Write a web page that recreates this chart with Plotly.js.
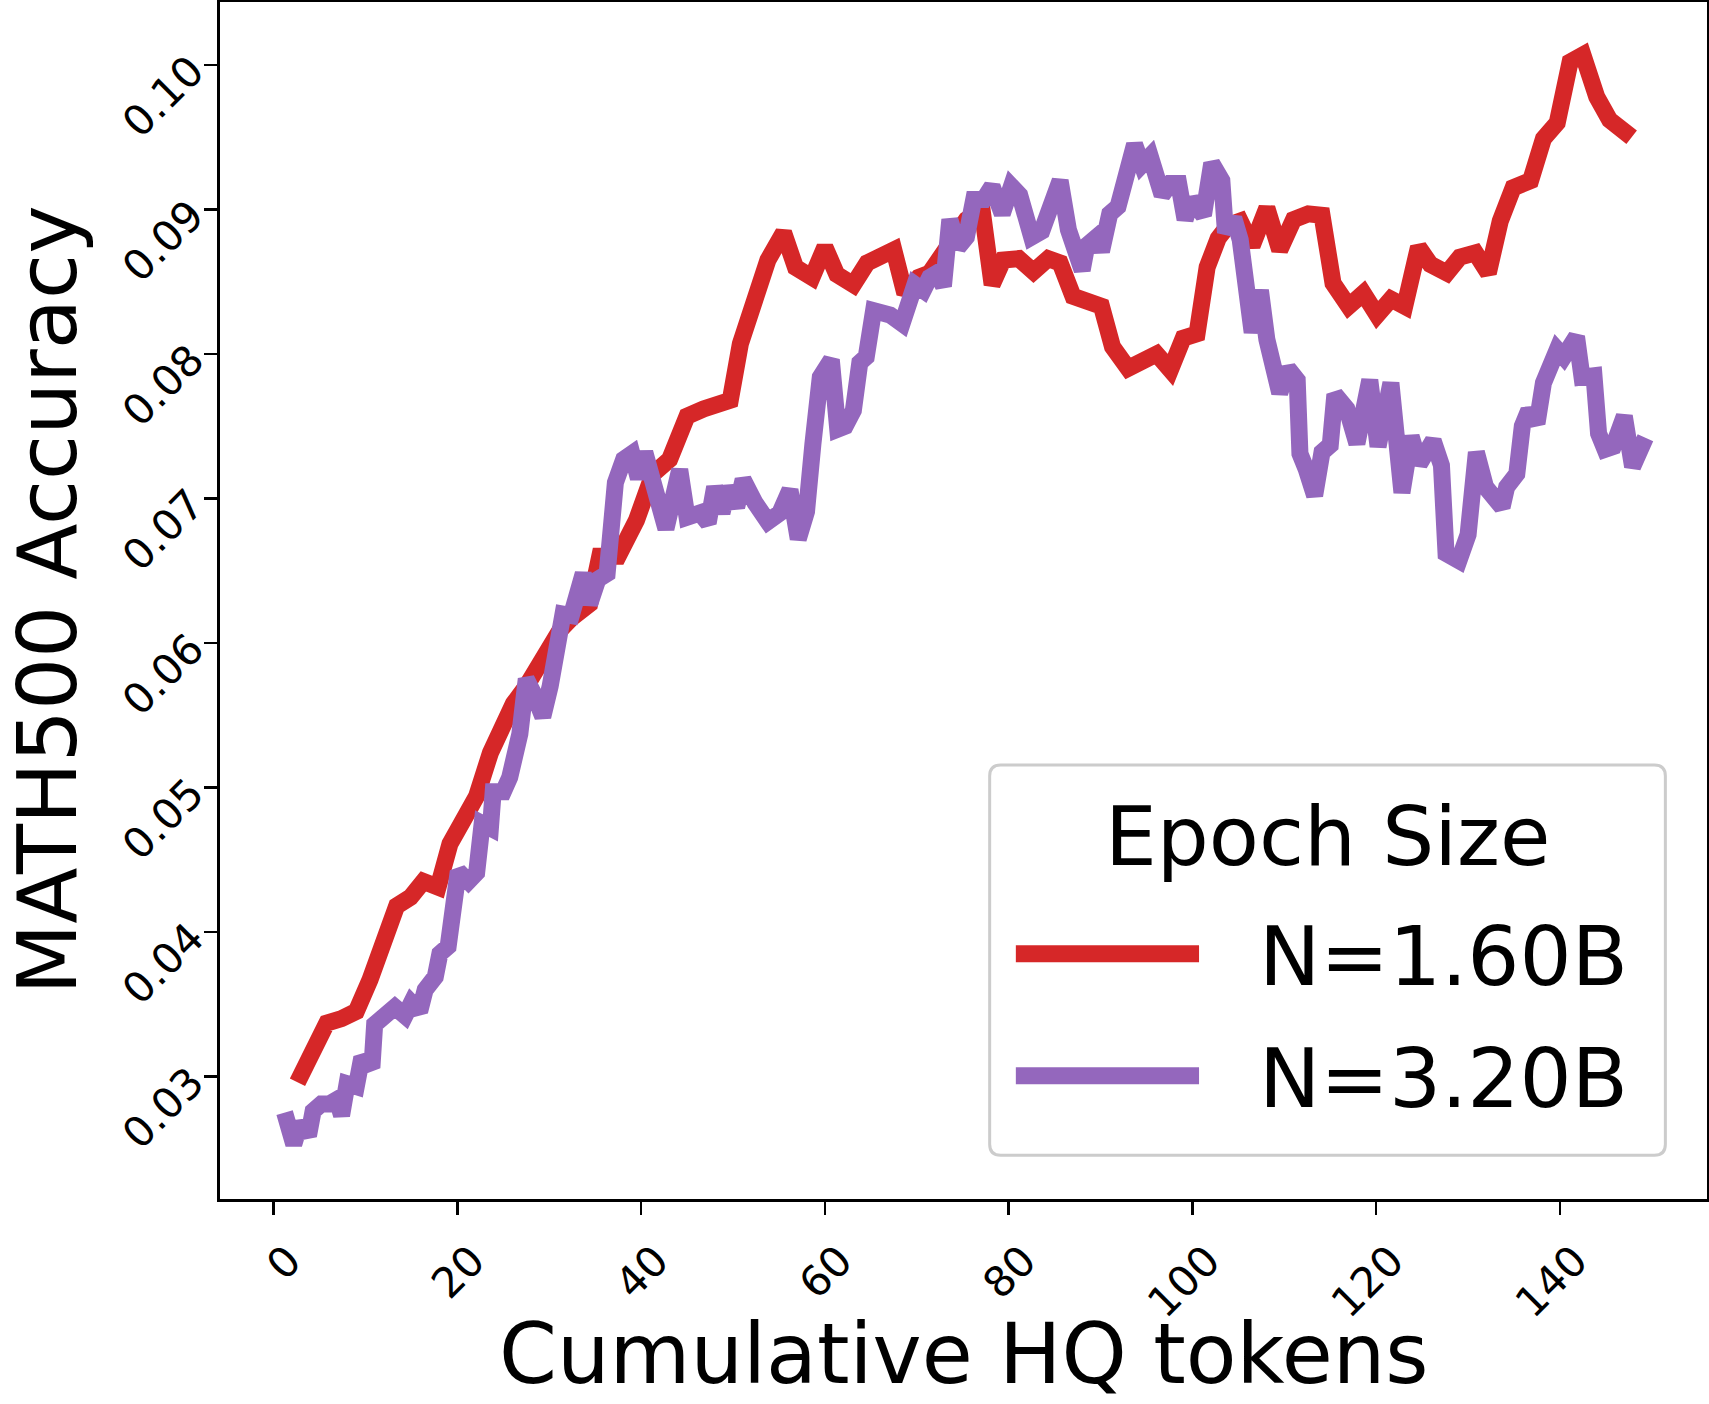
<!DOCTYPE html>
<html>
<head>
<meta charset="utf-8">
<script src="https://cdn.plot.ly/plotly-3.0.1.min.js"></script>
<style>html,body{margin:0;padding:0;background:#fff;}#chart{width:1709px;height:1404px;}</style>
</head>
<body>
<div id="chart"></div>
<script>
const xTitle = "Cumulative HQ tokens";
const yTitle = "MATH500 Accuracy";
const legendTitle = "Epoch Size";
const seriesNames = ["N=1.60B", "N=3.20B"];
const seriesColors = ["#d62728", "#9467bd"];

const redX = [2.6,4.0,5.8,7.4,9.0,10.5,11.9,13.4,14.9,16.3,17.9,19.2,20.7,22.1,23.6,24.6,26.1,27.5,29.0,30.2,31.2,32.4,34.4,35.5,37.5,39.5,41.3,43.1,45.0,46.8,49.7,50.8,52.0,53.8,55.5,56.8,58.6,60.0,61.3,63.1,64.6,65.8,67.5,68.7,70.2,71.4,72.5,74.0,75.4,77.1,78.2,79.4,81.1,82.7,84.3,85.6,87.0,90.1,91.3,93.0,94.5,96.1,97.6,99.0,100.5,101.6,102.8,103.9,105.2,106.5,108.1,109.5,111.0,112.6,114.1,115.3,117.0,118.6,120.1,121.6,123.1,124.6,125.9,127.7,129.1,130.8,132.2,133.5,134.9,136.8,138.2,139.7,141.1,142.5,144.0,145.4,147.8];
const redY = [0.0296,0.0317,0.0337,0.0340,0.0345,0.0367,0.0394,0.0418,0.0424,0.0435,0.0431,0.0461,0.0478,0.0494,0.0524,0.0540,0.0558,0.0570,0.0588,0.0603,0.0609,0.0617,0.0627,0.0660,0.0660,0.0685,0.0717,0.0727,0.0757,0.0762,0.0768,0.0807,0.0830,0.0865,0.0884,0.0860,0.0853,0.0874,0.0855,0.0848,0.0863,0.0866,0.0872,0.0842,0.0853,0.0856,0.0865,0.0879,0.0893,0.0900,0.0848,0.0865,0.0866,0.0857,0.0866,0.0863,0.0840,0.0833,0.0805,0.0790,0.0794,0.0800,0.0789,0.0811,0.0814,0.0860,0.0880,0.0889,0.0892,0.0875,0.0901,0.0872,0.0893,0.0897,0.0896,0.0849,0.0833,0.0842,0.0827,0.0838,0.0833,0.0874,0.0862,0.0856,0.0867,0.0870,0.0856,0.0892,0.0915,0.0920,0.0949,0.0960,0.1002,0.1007,0.0978,0.0962,0.0950];

const purpleX = [1.2,2.2,2.9,3.8,4.3,5.2,6.1,6.9,7.4,8.0,9.0,9.6,10.7,11.0,13.2,14.3,15.0,15.9,16.5,17.6,18.1,19.0,20.1,21.2,22.1,22.7,23.6,23.9,25.0,25.7,26.8,27.5,28.3,29.3,30.1,30.8,31.5,32.4,33.7,34.4,35.3,36.3,37.2,38.1,39.0,39.7,40.4,42.7,44.2,45.0,46.4,47.3,48.0,48.8,49.5,50.4,51.1,52.4,53.8,55.1,56.2,57.1,58.0,58.7,59.5,60.7,61.4,62.2,63.1,63.8,64.5,65.3,67.1,68.4,69.8,70.7,71.4,72.2,72.9,73.6,74.5,75.4,76.2,77.3,78.2,79.3,80.3,81.2,82.5,83.6,84.5,85.6,86.5,88.0,88.5,89.6,90.1,91.0,91.9,93.0,93.7,94.5,95.4,96.7,97.6,98.5,99.2,99.9,101.2,102.1,103.2,103.6,104.5,105.2,106.5,107.4,108.1,109.5,110.4,111.4,111.7,112.4,113.3,114.1,115.0,115.5,116.8,117.9,119.3,120.2,121.6,122.8,123.8,124.7,126.2,127.1,127.6,129.0,130.0,130.9,131.9,133.7,134.2,135.3,135.9,136.6,137.5,138.2,139.0,139.7,140.4,141.8,142.4,143.7,144.2,144.9,145.8,147.0,147.9,149.3];
const purpleY = [0.0275,0.0253,0.0268,0.0259,0.0276,0.0281,0.0281,0.0284,0.0273,0.0295,0.0293,0.0313,0.0306,0.0336,0.0348,0.0342,0.0351,0.0345,0.0360,0.0369,0.0385,0.0390,0.0442,0.0435,0.0441,0.0475,0.0472,0.0497,0.0497,0.0507,0.0537,0.0575,0.0565,0.0549,0.0570,0.0605,0.0620,0.0619,0.0648,0.0627,0.0644,0.0648,0.0711,0.0727,0.0731,0.0714,0.0732,0.0679,0.0720,0.0687,0.0690,0.0683,0.0708,0.0690,0.0708,0.0694,0.0713,0.0697,0.0684,0.0690,0.0706,0.0672,0.0691,0.0738,0.0784,0.0796,0.0748,0.0750,0.0761,0.0794,0.0798,0.0830,0.0827,0.0821,0.0848,0.0844,0.0853,0.0856,0.0847,0.0893,0.0874,0.0881,0.0907,0.0907,0.0916,0.0897,0.0916,0.0910,0.0881,0.0885,0.0905,0.0920,0.0886,0.0858,0.0875,0.0881,0.0871,0.0897,0.0902,0.0934,0.0945,0.0931,0.0937,0.0910,0.0918,0.0918,0.0893,0.0907,0.0896,0.0932,0.0920,0.0884,0.0894,0.0879,0.0815,0.0844,0.0810,0.0773,0.0790,0.0782,0.0731,0.0720,0.0702,0.0732,0.0737,0.0772,0.0762,0.0738,0.0782,0.0736,0.0780,0.0704,0.0743,0.0724,0.0740,0.0723,0.0662,0.0657,0.0675,0.0732,0.0708,0.0694,0.0708,0.0717,0.0750,0.0761,0.0752,0.0780,0.0796,0.0803,0.0798,0.0812,0.0784,0.0785,0.0745,0.0734,0.0736,0.0757,0.0722,0.0742];

const xTickVals = [0,20,40,60,80,100,120,140];
const xTickText = ["0","20","40","60","80","100","120","140"];
const yTickVals = [0.03,0.04,0.05,0.06,0.07,0.08,0.09,0.10];
const yTickText = ["0.03","0.04","0.05","0.06","0.07","0.08","0.09","0.10"];

const FONT = "DejaVu Sans, Liberation Sans, sans-serif";
const LW = 17;
const BIG = 82;

const traces = [
  {x: redX, y: redY, name: seriesNames[0], type: "scatter", mode: "lines",
   line: {color: seriesColors[0], width: LW}, showlegend: false},
  {x: purpleX, y: purpleY, name: seriesNames[1], type: "scatter", mode: "lines",
   line: {color: seriesColors[1], width: LW}, showlegend: false}
];

const axisCommon = {
  showgrid: false, zeroline: false, showline: true, linecolor: "#000", linewidth: 3,
  mirror: true, ticks: "outside", ticklen: 13, tickwidth: 2.5, tickcolor: "#000",
  tickangle: -45, tickfont: {family: FONT, size: 42, color: "#000"}
};

// legend box geometry (paper fractions of the plot area)
const lgX0 = 0.5176, lgX1 = 0.9720, lgYT = 0.3625, lgYB = 0.0365;
const rx = 11 / 1487, ry = 11 / 1197;
const boxPath = `M ${lgX0 + rx},${lgYT} L ${lgX1 - rx},${lgYT} Q ${lgX1},${lgYT} ${lgX1},${lgYT - ry} ` +
  `L ${lgX1},${lgYB + ry} Q ${lgX1},${lgYB} ${lgX1 - rx},${lgYB} L ${lgX0 + rx},${lgYB} ` +
  `Q ${lgX0},${lgYB} ${lgX0},${lgYB + ry} L ${lgX0},${lgYT - ry} Q ${lgX0},${lgYT} ${lgX0 + rx},${lgYT} Z`;
const entryY = [0.2049, 0.1030];
const lineX0 = 0.5352, lineX1 = 0.6584, textX = 0.6975;

const shapes = [
  {type: "path", xref: "paper", yref: "paper", path: boxPath, layer: "above",
   fillcolor: "rgba(255,255,255,0.85)", line: {color: "#cccccc", width: 3}}
];
seriesNames.forEach((n, i) => {
  shapes.push({type: "line", xref: "paper", yref: "paper", layer: "above",
    x0: lineX0, x1: lineX1, y0: entryY[i], y1: entryY[i],
    line: {color: seriesColors[i], width: LW}});
});
const annotations = [
  {xref: "paper", yref: "paper", x: 0.7451, y: 0.3030, xanchor: "center", yanchor: "middle",
   text: legendTitle, showarrow: false, font: {family: FONT, size: BIG, color: "#000"}},
  {xref: "paper", yref: "paper", x: 0.5, y: -0.1297, xanchor: "center", yanchor: "middle",
   text: xTitle, showarrow: false, font: {family: FONT, size: 83, color: "#000"}},
  {xref: "paper", yref: "paper", x: -0.1157, y: 0.5008, xanchor: "center", yanchor: "middle",
   textangle: -90, text: yTitle, showarrow: false, font: {family: FONT, size: BIG, color: "#000"}}
];
seriesNames.forEach((n, i) => {
  annotations.push({xref: "paper", yref: "paper", x: textX, y: entryY[i] - 0.002,
    xanchor: "left", yanchor: "middle", text: n, showarrow: false,
    font: {family: FONT, size: BIG, color: "#000"}});
});

const layout = {
  width: 1709, height: 1404,
  margin: {l: 220, r: 2, t: 2, b: 205, autoexpand: false},
  paper_bgcolor: "#fff", plot_bgcolor: "#fff",
  font: {family: FONT, color: "#000"},
  showlegend: false,
  xaxis: Object.assign({}, axisCommon, {
    range: [-5.83, 156.0], tickvals: xTickVals, ticktext: xTickText,
    ticklabelshift: 15, ticklabelstandoff: 4
  }),
  yaxis: Object.assign({}, axisCommon, {
    range: [0.02152, 0.10436], tickvals: yTickVals, ticktext: yTickText,
    ticklabelstandoff: 4
  }),
  shapes: shapes,
  annotations: annotations
};

Plotly.newPlot("chart", traces, layout, {displayModeBar: false, staticPlot: true});
</script>
</body>
</html>
